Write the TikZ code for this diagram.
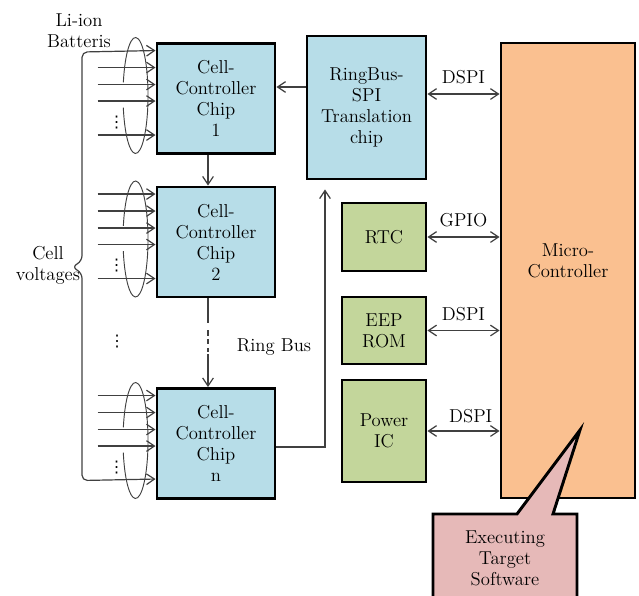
\documentclass[tikz,border=0pt]{standalone}
\usepackage{fontspec}
\newfontfamily\dotsfont{DejaVu Sans}
\usepackage{tikz}
\usetikzlibrary{
    arrows.meta,
    calc
}

\definecolor{chipblue}{HTML}{B7DDE8}
\definecolor{icgreen}{HTML}{C3D69B}
\definecolor{mcuorange}{HTML}{FAC090}
\definecolor{notepink}{HTML}{E6B9B8}
\definecolor{wiregray}{HTML}{404040}

\tikzset{
    txt/.style={font=\fontsize{14}{15.75}\selectfont, align=center},
    lbl/.style={txt, inner sep=2pt},
    vdot/.style={font=\dotsfont\fontsize{12}{12}\selectfont, inner sep=0pt},
    box/.style={txt, draw=black, line width=2.2pt, inner sep=0pt},
    chip/.style={box, fill=chipblue, minimum width=88.5pt, minimum height=82.5pt},
    periph/.style={box, fill=icgreen, minimum width=63pt},
    mcu/.style={box, fill=mcuorange, minimum width=100.5pt, minimum height=341.25pt},
    wire/.style={draw=wiregray, line width=0.9pt},
    arr/.style={wire, -{Straight Barb[length=6pt,width=8pt]}},
    biarr/.style={wire, {Straight Barb[length=6pt,width=8pt]}-{Straight Barb[length=6pt,width=8pt]}},
    ell/.style={draw=wiregray, line width=0.7pt}
}

\begin{document}
\begin{tikzpicture}[x=0.75pt,y=-0.75pt]

\useasboundingbox (0,0) rectangle (639,596);
\clip (0,0) rectangle (639,596);

% Cell controller chips
\node[chip] (chip1) at (216,98.5) {Cell-\\Controller\\Chip\\1};
\node[chip] (chip2) at (216,242) {Cell-\\Controller\\Chip\\2};
\node[chip] (chipn) at (216,443.5) {Cell-\\Controller\\Chip\\n};

% Translation chip and peripherals
\node[chip, minimum width=89.25pt, minimum height=107.25pt] (ringbus) at (366.5,107.5) {RingBus-\\SPI\\Translation\\chip};
\node[periph, minimum height=51pt] (rtc) at (384,237) {RTC};
\node[periph, minimum height=50.25pt] (eep) at (384,330.5) {EEP\\ROM};
\node[periph, minimum height=76.5pt] (power) at (384,431) {Power\\IC};

% Micro controller
\node[mcu] (micro) at (568,270.5) {};
\node[txt] (microtxt) at (568,261) {Micro-\\Controller};

% Cell voltage inputs with bundle ellipses
\foreach \c in {chip1,chip2,chipn}{
    \foreach \dy in {25.5,42.5,59}
        \draw[arr] ($(\c.north west)+(-58,\dy)$) -- ($(\c.north west)+(0,\dy)$);
    \node[vdot] (\c dots) at ($(\c.north west)+(-39,80)$) {⋮};
    \draw[ell] ($(\c.west)+(-20,-3)$) ++(193:12.5 and 58)
        arc[start angle=193, end angle=528, x radius=12.5, y radius=58];
}
\foreach \c/\dy in {chip1/93, chip2/8.5, chip2/93, chipn/8.5}
    \draw[arr] ($(\c.north west)+(-58,\dy)$) -- ($(\c.north west)+(0,\dy)$);

% Brace joining first and last cell
\draw[biarr, rounded corners=4pt] ($(chip1.north west)+(0,8.5)$) -- (82,52) -- (82,261)
    -- (72,267) -- (82,273) -- (82,480.5) -- ($(chipn.north west)+(0,92)$);

\node[txt] (liion) at (79,31) {Li-ion\\Batteris};
\node[txt] (cellv) at (48,265) {Cell\\voltages};
\node[vdot] (middots) at (117,342) {⋮};

% Ring bus
\draw[arr] (ringbus.west |- 0,87) -- (chip1.east |- 0,87);
\draw[arr] (chip1.south -| 208,0) -- (chip2.north -| 208,0);
\draw[wire] (chip2.south -| 208,0) -- ++(0,25) coordinate (gap1);
\draw[wire, dash pattern=on 4pt off 2.5pt] ($(gap1)+(0,7)$) -- ++(0,22) coordinate (gap2);
\draw[arr] ($(gap2)+(0,2)$) -- (chipn.north -| gap2);
\draw[arr] (chipn.east |- 0,447) -| ($(ringbus.south -| 325,0)+(0,9)$);
\node[txt] (ringlbl) at (274,347) {Ring Bus};

% Links to the micro controller
\draw[biarr] (ringbus.east |- 0,94) -- (micro.west |- 0,94) node[lbl, midway, above=5pt] {DSPI};
\draw[biarr] (rtc.east) -- (rtc.east -| micro.west) node[lbl, midway, above=5pt] {GPIO};
\draw[biarr] (eep.east) -- (eep.east -| micro.west) node[lbl, midway, above=5pt] {DSPI};
\draw[biarr] (power.east) -- (power.east -| micro.west) node[lbl, pos=0.6, above=4pt] {DSPI};

% Callout
\draw[fill=notepink, line width=2.2pt, line join=miter] (433,514) -- (517,514) -- (580,430)
    -- (553,514) -- (577,514) -- (577,600) -- (433,600) -- cycle;
\node[txt] (note) at (505,558) {Executing\\Target\\Software};

\end{tikzpicture}
\end{document}
